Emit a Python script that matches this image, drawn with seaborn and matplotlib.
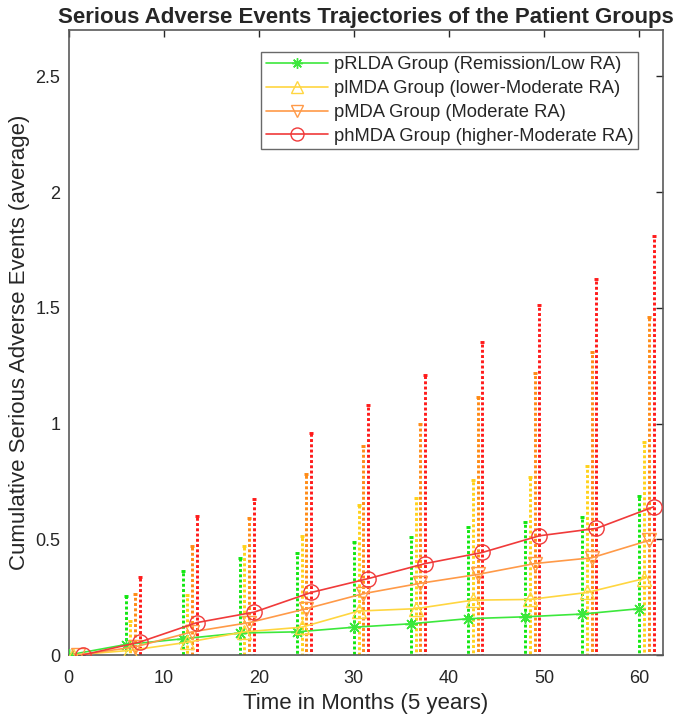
import numpy as np
import pandas as pd
import matplotlib
matplotlib.use("Agg")
import matplotlib.pyplot as plt
import seaborn as sns

sns.set_style("white")
plt.rcParams['font.family'] = ['Liberation Sans', 'DejaVu Sans']

# Data
months = [0, 6, 12, 18, 24, 30, 36, 42, 48, 54, 60]
groups = ['pRLDA Group (Remission/Low RA)', 'plMDA Group (lower-Moderate RA)',
          'pMDA Group (Moderate RA)', 'phMDA Group (higher-Moderate RA)']

mean_rlda = [0, 0.045, 0.07, 0.095, 0.10, 0.12, 0.135, 0.157, 0.165, 0.177, 0.20]
mean_lmda = [0, 0.02, 0.055, 0.10, 0.12, 0.19, 0.20, 0.237, 0.24, 0.27, 0.33]
mean_mda = [0, 0.035, 0.10, 0.14, 0.20, 0.265, 0.31, 0.348, 0.395, 0.42, 0.495]
mean_hmda = [0, 0.056, 0.14, 0.185, 0.27, 0.33, 0.395, 0.443, 0.515, 0.547, 0.64]

# upper end of each error bar
top_rlda = [0, 0.255, 0.365, 0.42, 0.44, 0.487, 0.51, 0.555, 0.573, 0.595, 0.685]
top_lmda = [0, 0.145, 0.26, 0.47, 0.515, 0.65, 0.68, 0.757, 0.77, 0.815, 0.92]
top_mda = [0, 0.265, 0.47, 0.59, 0.78, 0.905, 1.0, 1.115, 1.22, 1.31, 1.46]
top_hmda = [0, 0.335, 0.60, 0.675, 0.96, 1.08, 1.21, 1.35, 1.51, 1.625, 1.81]

offsets = [0, 0.5, 1.0, 1.5]
bar_colors = ['#11e611', '#ffd21a', '#ff8a14', '#ff1a1a']
line_colors = ['#3ce83c', '#ffd640', '#ff9a48', '#f03a3a']
markers = [(8, 2, 0), '^', 'v', 'o']
msizes = [9, 10, 10, 11]

means = [mean_rlda, mean_lmda, mean_mda, mean_hmda]
tops = [top_rlda, top_lmda, top_mda, top_hmda]

fig = plt.figure(figsize=(6.85, 7.24), dpi=100)
ax = fig.add_axes([0.1, 0.0953, 0.868, 0.8633])

for i, g in enumerate(groups):
    x = np.array(months) + offsets[i]
    m = np.array(means[i])
    err = np.array(tops[i]) - m
    eb = ax.errorbar(x, m, yerr=err, fmt='none', ecolor=bar_colors[i],
                     elinewidth=2.1, capsize=1.3, capthick=2.1, zorder=2)
    eb[2][0].set_linestyle((0, (1, 0.8)))
    df = pd.DataFrame({'Month': x, 'Events': m})
    sns.lineplot(data=df, x='Month', y='Events', ax=ax, color=line_colors[i],
                 linewidth=1.2, marker=markers[i], markersize=msizes[i],
                 mfc='none', mec=line_colors[i], mew=1.0, label=g,
                 errorbar=None, zorder=3)

ax.set_xlim(0, 62.5)
ax.set_ylim(0, 2.7)
ax.set_xticks([0, 10, 20, 30, 40, 50, 60])
ax.set_yticks([0, 0.5, 1, 1.5, 2, 2.5])
ax.set_yticklabels(['0', '0.5', '1', '1.5', '2', '2.5'])
ax.tick_params(direction='in', top=True, right=True, length=5, width=1,
               labelsize=13, colors='#262626')
ax.tick_params(axis='x', pad=11)
ax.tick_params(axis='y', pad=6)
for s in ax.spines.values():
    s.set_color('#5a5a5a')
    s.set_linewidth(1.2)

ax.set_xlabel('Time in Months (5 years)', fontsize=16, color='#262626', labelpad=4)
ax.set_ylabel('Cumulative Serious Adverse Events (average)', fontsize=16,
              color='#262626', labelpad=4)
ax.set_title('Serious Adverse Events Trajectories of the Patient Groups',
             fontsize=16, fontweight='bold', pad=5)

leg = ax.legend(loc='upper right', bbox_to_anchor=(0.958, 0.965), borderaxespad=0,
                fontsize=13.2, frameon=True, fancybox=False, edgecolor='#444444',
                handlelength=3.4, borderpad=0.25, labelspacing=0.37,
                handletextpad=0.3, markerscale=0.85)
leg.get_frame().set_linewidth(1.0)

fig.savefig('out.png', dpi=100, facecolor='white')
